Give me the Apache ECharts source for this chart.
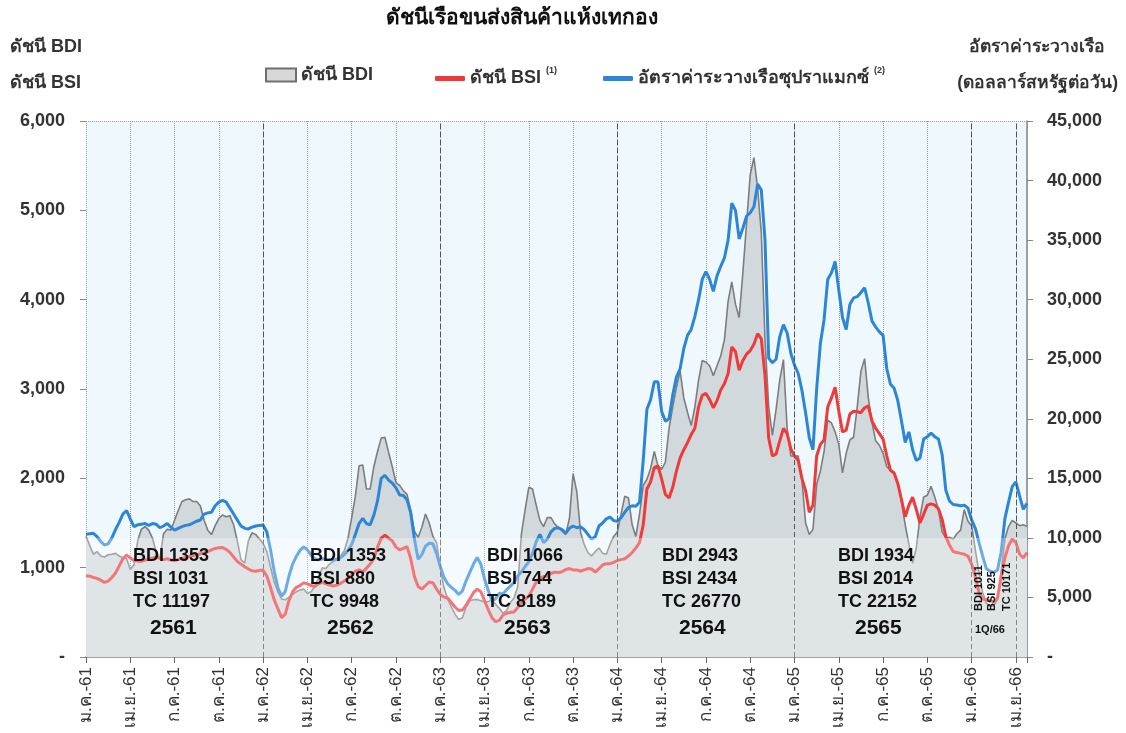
<!DOCTYPE html>
<html>
<head>
<meta charset="utf-8">
<script src="https://cdn.jsdelivr.net/npm/echarts@6/dist/echarts.min.js"></script>
<style>
  html, body { margin: 0; padding: 0; background: #fff; }
  #main { width: 1126px; height: 733px; }
</style>
</head>
<body>
<div id="main"></div>
<script>
// quarter tick labels (Thai months, Buddhist year)
const xTickLabels = [
  'ม.ค.-61', 'เม.ย.-61', 'ก.ค.-61', 'ต.ค.-61',
  'ม.ค.-62', 'เม.ย.-62', 'ก.ค.-62', 'ต.ค.-62',
  'ม.ค.-63', 'เม.ย.-63', 'ก.ค.-63', 'ต.ค.-63',
  'ม.ค.-64', 'เม.ย.-64', 'ก.ค.-64', 'ต.ค.-64',
  'ม.ค.-65', 'เม.ย.-65', 'ก.ค.-65', 'ต.ค.-65',
  'ม.ค.-66', 'เม.ย.-66'
]
// one value per week (0.25 month) starting ม.ค.-61
const bdi = [
  1350, 1250, 1150, 1180, 1130, 1120, 1145, 1150, 1160, 1130, 1110, 1100, 980, 1030, 1300, 1430,
  1460, 1420, 1330, 1180, 1090, 1380, 1430, 1420, 1530, 1640, 1740, 1760, 1770, 1740, 1740, 1690,
  1530, 1420, 1370, 1470, 1550, 1590, 1570, 1580, 1480, 1300, 1090, 1050, 1300, 1390, 1370, 1320,
  1272, 1180, 1010, 840, 730, 650, 640, 670, 700, 730, 750, 760, 710, 730, 790, 880,
  1000, 990, 1040, 1070, 1100, 1130, 1190, 1330, 1560, 1800, 2140, 2150, 1880, 1880, 2130, 2300,
  2450, 2460, 2290, 2130, 1950, 1920, 1860, 1820, 1640, 1410, 1340, 1450, 1600, 1500, 1350, 1280,
  1000, 780, 650, 560, 480, 420, 440, 560, 630, 640, 645, 630, 615, 620, 640, 590,
  545, 490, 520, 610, 660, 790, 1380, 1650, 1900, 1880, 1700, 1530, 1460, 1560, 1560, 1490,
  1450, 1410, 1370, 1550, 2050, 1850, 1400, 1260, 1170, 1130, 1180, 1220, 1160, 1150, 1260, 1350,
  1400, 1600, 1800, 1780, 1480, 1350, 1600, 1920, 1990, 2110, 2300, 2140, 2100, 2180, 2560, 2800,
  3020, 3200, 2900, 2740, 2590, 2800, 3100, 3320, 3300, 3260, 3150, 3260, 3370, 3550, 3980, 4200,
  3950, 3800, 4300, 4850, 5400, 5590, 5250, 4750, 3560, 2800, 2480, 2770, 3100, 3330, 2560, 2250,
  2250, 2250, 1990, 1500, 1370, 1430, 1930, 2080, 2300, 2650, 2620, 2520, 2380, 2060, 2280, 2430,
  2460, 2800, 3200, 3340, 2900, 2620, 2420, 2370, 2280, 2130, 2090, 2050, 1950, 1730, 1480, 1260,
  1050, 1220, 1570, 1790, 1810, 1910, 1790, 1650, 1400, 1330, 1340, 1320, 1380, 1420, 1650, 1520,
  1470, 1200, 940, 720, 600, 565, 575, 640, 960, 1320, 1460, 1530, 1500, 1470, 1480, 1460
]
const bsi = [
  910, 905, 890, 880, 860, 835, 850, 890, 940, 1020, 1100, 1140, 1110, 1080, 1075, 1070,
  1085, 1095, 1110, 1120, 1105, 1090, 1100, 1085, 1080, 1090, 1105, 1115, 1125, 1135, 1145, 1155,
  1165, 1180, 1200, 1215, 1222, 1225, 1205, 1170, 1120, 1070, 1040, 1010, 985, 965, 960, 970,
  970, 905, 780, 640, 540, 440, 480, 630, 730, 780, 800, 830, 820, 800, 790, 820,
  835, 820, 805, 795, 805, 825, 850, 880, 920, 960, 975, 950, 995, 1040, 1100, 1230,
  1330, 1365, 1330, 1300, 1230, 1200, 1215, 1235, 1100, 900, 790, 760, 800, 840, 830, 760,
  700, 670, 660, 610, 560, 520, 525, 580, 650, 720, 760, 730, 630, 530, 440, 395,
  410, 470, 490, 500, 505, 555, 610, 650, 680, 760, 840, 885, 900, 905, 935, 950,
  945, 955, 980, 990, 975, 975, 960, 975, 990, 985, 950, 990, 1030, 1045, 1045, 1060,
  1080, 1090, 1100, 1130, 1170, 1220, 1280, 1480, 1880, 1960, 2120, 2140, 1990, 1820, 1780, 1900,
  2080, 2230, 2320, 2400, 2490, 2560, 2800, 2930, 2950, 2880, 2790, 2870, 2990, 3060, 3170, 3470,
  3420, 3210, 3320, 3390, 3430, 3500, 3620, 3560, 3150, 2450, 2250, 2270, 2420, 2560, 2500, 2330,
  2250, 2200, 2000, 1860, 1620, 1700, 2250, 2380, 2430, 2800, 2900, 3020, 2750, 2520, 2540, 2720,
  2750, 2745, 2735, 2790, 2810, 2640, 2560, 2500, 2440, 2250, 2090, 2060, 1940, 1760, 1570, 1700,
  1790, 1650, 1500, 1600, 1700, 1715, 1700, 1660, 1540, 1350, 1250, 1180, 1170, 1160, 1150, 1130,
  1040, 900, 720, 650, 640, 630, 620, 660, 900, 1110, 1245, 1320, 1280, 1150, 1110, 1170
]
const tc = [
  10300, 10350, 10380, 10100, 9700, 9400, 9500, 10000, 10700, 11300, 12000, 12300, 11600, 10950, 11100, 11150,
  11200, 11050, 11200, 11150, 10850, 11000, 11200, 10900, 10650, 10800, 10950, 11050, 11100, 11250, 11400, 11500,
  12000, 12100, 12150, 12700, 13000, 13150, 13000, 12500, 12000, 11500, 11000, 10800, 10750, 10900, 11000, 11050,
  11080, 10500, 9000, 7200, 5800, 5100, 5500, 6800, 7800, 8450, 8950, 9250, 9000, 8550, 8250, 8150,
  8250, 8200, 8180, 8150, 8200, 8350, 8600, 8950, 9450, 10300, 11200, 11650, 11200, 11100, 11900, 13100,
  15000, 15250, 14850, 14600, 14200, 13600, 13550, 13200, 12100, 9900, 8200, 8600, 9300, 9550, 9500, 8700,
  7600, 6700, 6150, 5850, 5600, 5250, 5550, 6400, 7100, 7800, 8350, 7800, 6550, 5600, 4700, 4900,
  5350, 5300, 5650, 5950, 6250, 6800, 7150, 7600, 8000, 8700, 9700, 10300, 9600, 9900, 10500, 10800,
  10850, 10700, 10400, 10800, 11000, 10850, 10950, 10700, 10300, 9900, 10100, 11000, 11250, 11600, 11750, 11450,
  11400, 11700, 12150, 12550, 12700, 12650, 13000, 16500, 20800, 21600, 23100, 23100, 20600, 19800, 20000, 22000,
  23500, 24200, 25900, 27000, 27500, 28600, 30000, 31700, 32350, 31700, 30700, 32000, 32800, 33500, 35000, 38100,
  37500, 35100, 36000, 37000, 37300, 37800, 39700, 39200, 35000, 25100, 24700, 25000, 26900, 27900, 27200, 25500,
  24500, 23800, 22400, 20500, 18400, 17400, 22500, 26300, 28300, 31700, 32250, 33200, 30800, 28500, 27500, 29600,
  30150, 30250, 30600, 31000, 29700, 28200, 27700, 27300, 27000, 24200, 22900, 22560, 21500, 19800, 18000, 18900,
  17400, 16500, 16700, 18300, 18500, 18800, 18500, 18300, 17000, 14000, 13100, 12800, 12760, 12700, 12750, 12500,
  11500, 10800, 9600, 8450, 7400, 7200, 7100, 7300, 8800, 11600, 13000, 14300, 14700, 13500, 12400, 12900
]
// yearly averages written on the chart
const yearNames = ['2561', '2562', '2563', '2564', '2565']
const bdiAvg = [1353, 1353, 1066, 2943, 1934]
const bsiAvg = [1031, 880, 744, 2434, 2014]
const tcAvg = [11197, 9948, 8189, 26770, 22152]
const q1Name = '1Q/66'
const q1Avg = [1011, 925, 10171]

const step = 0.25
const FONT = '"Liberation Sans", Arial, "Noto Sans", sans-serif'
const txt = '#333'

const toPairs = arr => arr.map((v, i) => [i * step, v])
const fmt = v => v === 0 ? '-' : v.toLocaleString('en-US')

// annotation blocks (left edge of each block, px)
const blockX = [133, 310, 487, 662, 838]
const annot = []
yearNames.forEach((y, i) => {
  const lines = ['BDI ' + bdiAvg[i], 'BSI ' + bsiAvg[i], 'TC ' + tcAvg[i]]
  lines.forEach((s, k) => {
    annot.push({ type: 'text', z: 120, left: blockX[i], top: 547 + k * 23,
      style: { text: s, font: 'bold 18px ' + FONT, fill: '#111' } })
  })
  annot.push({ type: 'text', z: 120, left: blockX[i] + 17, top: 618,
    style: { text: y, font: 'bold 21px ' + FONT, fill: '#111' } })
})
const q1Lines = ['BDI ' + q1Avg[0], 'BSI ' + q1Avg[1], 'TC ' + q1Avg[2]]
const q1X = [979, 992, 1007]
q1Lines.forEach((s, k) => {
  annot.push({ type: 'text', z: 120, x: q1X[k], y: 611, rotation: Math.PI / 2,
    style: { text: s, font: 'bold 11px ' + FONT, fill: '#111', align: 'left', verticalAlign: 'middle' } })
})
annot.push({ type: 'text', z: 120, left: 975, top: 624,
  style: { text: q1Name, font: 'bold 11px ' + FONT, fill: '#111' } })

const legendText = { fontSize: 18, fontWeight: 'bold', color: txt,
  rich: { sup: { fontSize: 9, color: txt, padding: [0, 0, 16, 5] } } }

const myChart = echarts.init(document.getElementById('main'))
myChart.setOption({
  animation: false,
  backgroundColor: '#fff',
  textStyle: { fontFamily: FONT },
  grid: {
    left: 86, right: 99, top: 121, bottom: 76,
    show: true, backgroundColor: '#eff8fc', borderWidth: 0
  },
  legend: [
    {
      data: [{ name: 'ดัชนี BDI', itemStyle: { color: '#d8d8d8', borderColor: '#6f6f6f', borderWidth: 2 } }],
      left: 265, top: 66, padding: 0, icon: 'rect', itemWidth: 30, itemHeight: 13,
      textStyle: legendText
    },
    {
      data: ['ดัชนี BSI'],
      left: 435, top: 66, padding: 0, icon: 'roundRect', itemWidth: 30, itemHeight: 5,
      formatter: n => n + '{sup|(1)}',
      textStyle: legendText
    },
    {
      data: ['อัตราค่าระวางเรือซุปราแมกซ์'],
      left: 603, top: 66, padding: 0, icon: 'roundRect', itemWidth: 30, itemHeight: 5,
      formatter: n => n + '{sup|(2)}',
      textStyle: legendText
    }
  ],
  xAxis: {
    type: 'value', min: 0, max: (bdi.length - 1) * step, interval: 3,
    axisLine: { lineStyle: { color: '#a0a0a0', width: 2 } },
    axisTick: { length: 6, lineStyle: { color: '#666' } },
    axisLabel: {
      rotate: 90, margin: 10, fontSize: 17, color: txt,
      formatter: v => (v % 3 === 0 && xTickLabels[v / 3]) ? xTickLabels[v / 3] : ''
    },
    splitLine: { show: true, lineStyle: { color: '#9a9a9a', type: 'dotted', width: 1 } }
  },
  yAxis: [
    {
      type: 'value', min: 0, max: 6000, interval: 1000,
      axisLine: { show: false },
      axisTick: { show: true, length: 6, lineStyle: { color: '#888' } },
      axisLabel: { fontSize: 18, fontWeight: 'bold', color: txt, margin: 21, formatter: fmt },
      splitLine: { show: false }
    },
    {
      type: 'value', min: 0, max: 45000, interval: 5000,
      axisLine: { show: true, lineStyle: { color: '#888', width: 1.5 } },
      axisTick: { show: true, length: 6, lineStyle: { color: '#888' } },
      axisLabel: { fontSize: 18, fontWeight: 'bold', color: txt, margin: 20, formatter: fmt },
      splitLine: { show: false }
    }
  ],
  series: [
    {
      name: 'ดัชนี BDI', type: 'line', yAxisIndex: 0, data: toPairs(bdi),
      showSymbol: false, z: 2,
      lineStyle: { color: '#7d7d7d', width: 1.6 },
      itemStyle: { color: '#7d7d7d' },
      areaStyle: { color: '#d2d9dc', opacity: 1 },
      markLine: {
        silent: true, symbol: 'none', label: { show: false },
        data: [
          { xAxis: 12, lineStyle: { color: '#555', type: [5, 3], width: 1 } },
          { xAxis: 24, lineStyle: { color: '#555', type: [5, 3], width: 1 } },
          { xAxis: 36, lineStyle: { color: '#555', type: [5, 3], width: 1 } },
          { xAxis: 48, lineStyle: { color: '#555', type: [5, 3], width: 1 } },
          { xAxis: 60, lineStyle: { color: '#555', type: [5, 3], width: 1 } },
          { xAxis: 63, lineStyle: { color: '#555', type: [5, 3], width: 1 } },
          { yAxis: 6000, lineStyle: { color: '#999', type: 'dotted', width: 1 } }
        ]
      }
    },
    {
      name: 'ดัชนี BSI', type: 'line', yAxisIndex: 0, data: toPairs(bsi),
      showSymbol: false, z: 3,
      lineStyle: { color: '#f03a3a', width: 3 },
      itemStyle: { color: '#f03a3a' }
    },
    {
      name: 'อัตราค่าระวางเรือซุปราแมกซ์', type: 'line', yAxisIndex: 1, data: toPairs(tc),
      showSymbol: false, z: 4,
      lineStyle: { color: '#2c86d8', width: 3 },
      itemStyle: { color: '#2c86d8' }
    }
  ],
  graphic: [
    // pale band over the lower part of the plot
    { type: 'rect', z: 100, silent: true, shape: { x: 86, y: 538, width: 941, height: 119 },
      style: { fill: 'rgba(255,255,255,0.3)' } },
    { type: 'text', x: 522, y: 8, style: { text: 'ดัชนีเรือขนส่งสินค้าแห้งเทกอง', font: 'bold 21px ' + FONT, fill: '#111', align: 'center' } },
    { type: 'text', left: 10, top: 38, style: { text: 'ดัชนี BDI', font: 'bold 18px ' + FONT, fill: txt } },
    { type: 'text', left: 10, top: 74, style: { text: 'ดัชนี BSI', font: 'bold 18px ' + FONT, fill: txt } },
    { type: 'text', right: 21, top: 38, style: { text: 'อัตราค่าระวางเรือ', font: 'bold 17.5px ' + FONT, fill: txt } },
    { type: 'text', right: 8, top: 74, style: { text: '(ดอลลาร์สหรัฐต่อวัน)', font: 'bold 17.5px ' + FONT, fill: txt } }
  ].concat(annot)
})
</script>
</body>
</html>
